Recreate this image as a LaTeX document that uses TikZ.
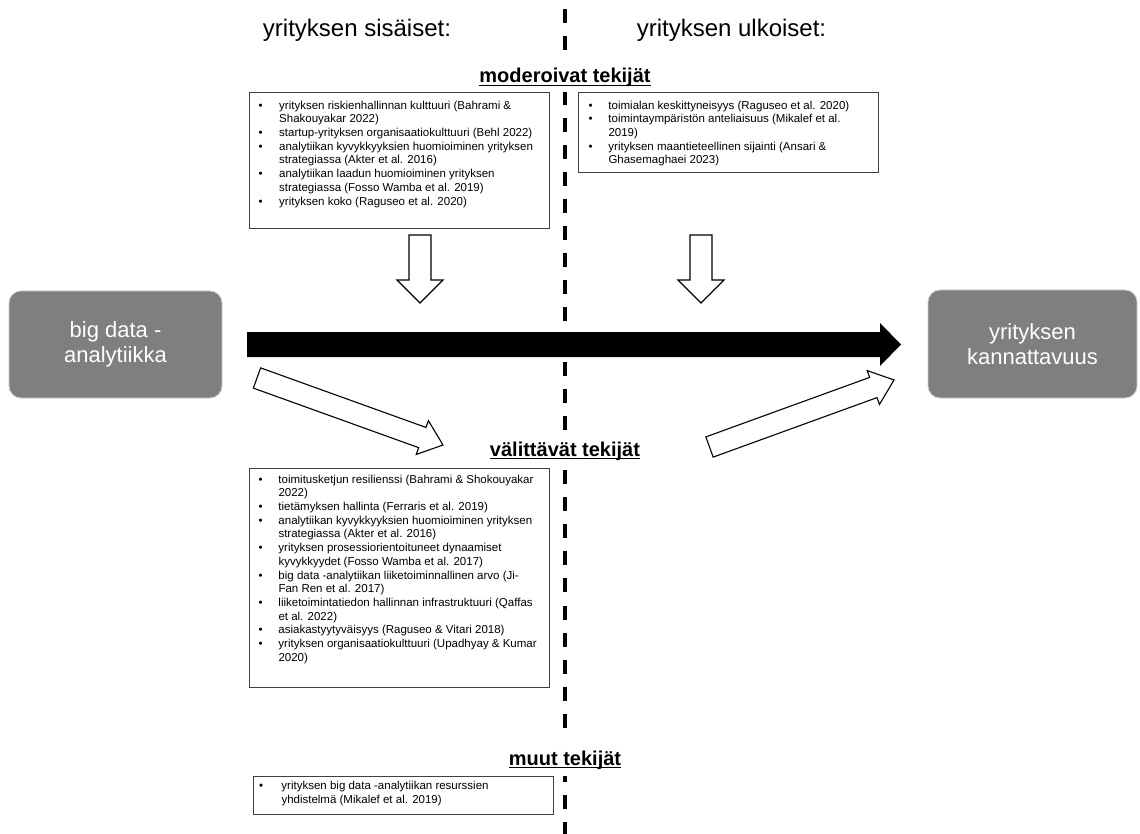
\documentclass[tikz,border=0pt]{standalone}
\usepackage{fontspec}
\setmainfont{Liberation Sans}
\usetikzlibrary{calc}
\definecolor{boxgray}{RGB}{127,127,127}
\newcommand\blockarrow[6]{% #1 style, #2 start, #3 tip, #4 half shaft, #5 half head, #6 head length
  \coordinate (ba-h) at ($(#3)!#6!(#2)$);
  \draw[#1] ($(#2)!#4!90:(#3)$) -- ($(ba-h)!#4!-90:(#2)$) -- ($(ba-h)!#5!-90:(#2)$) -- (#3)
    -- ($(ba-h)!#5!90:(#2)$) -- ($(ba-h)!#4!90:(#2)$) -- ($(#2)!#4!-90:(#3)$) -- cycle;
}
\newcommand\bl{\textbullet}
\begin{document}
\begin{tikzpicture}[x=1pt,y=-1pt,
  listbox/.style={draw=black!75, line width=1.1pt, anchor=north west, inner sep=0pt},
  listtext/.style={anchor=north west, inner sep=0pt, font=\fontsize{11.5}{13.7}\selectfont},
  labelbg/.style={fill=white, inner sep=0pt},
  labeltext/.style={anchor=base, inner sep=0pt, font=\bfseries\fontsize{20}{24}\selectfont},
  uline/.style={line width=1.5pt},
  titletext/.style={anchor=base, inner sep=0pt, font=\fontsize{24}{28}\selectfont},
  bigbox/.style={fill=boxgray, draw=black!20, line width=0.8pt, rounded corners=12pt,
    text=white, align=center, font=\fontsize{22}{25}\selectfont, inner sep=0pt},
  hollowarrow/.style={draw=black, line width=1.1pt, fill=white},
  solidarrow/.style={fill=black, draw=none},
  dashline/.style={line width=4.5pt, dash pattern=on 14pt off 13.1pt, dash phase=17.8pt}
]
\useasboundingbox (0,0) rectangle (1140,834);
\fill[white] (0,0) rectangle (1140,834);

% dashed divider
\coordinate (dtop) at (565,0);
\coordinate (dbot) at (565,834);
\draw[dashline] (dtop) -- (dbot);

% titles
\node[titletext] (tin) at (357,37) {yrityksen sisäiset:};
\node[titletext] (tout) at (731.5,37) {yrityksen ulkoiset:};

% label: moderoivat
\node[labelbg, minimum width=196pt, minimum height=32pt] (modbg) at (565,76) {};
\node[labeltext] (modlab) at (565,83) {moderoivat tekijät};
\draw[uline] ([yshift=-2.5pt]modlab.base west) -- ([yshift=-2.5pt]modlab.base east);

% moderating boxes
\node[listbox, minimum width=300pt, minimum height=136pt] (modin) at (249,92) {};
\node[listtext] (modintxt) at (258.5,99.4) {%
\begin{tabular}{@{}p{20.5pt}@{}l@{}}
\bl & yrityksen riskienhallinnan kulttuuri (Bahrami \&\\
    & Shakouyakar 2022)\\
\bl & startup-yrityksen organisaatiokulttuuri (Behl 2022)\\
\bl & analytiikan kyvykkyyksien huomioiminen yrityksen\\
    & strategiassa (Akter et al. 2016)\\
\bl & analytiikan laadun huomioiminen yrityksen\\
    & strategiassa (Fosso Wamba et al. 2019)\\
\bl & yrityksen koko (Raguseo et al. 2020)
\end{tabular}};

\node[listbox, minimum width=300pt, minimum height=80pt] (modout) at (578,92) {};
\node[listtext] (modouttxt) at (588.5,99.4) {%
\begin{tabular}{@{}p{19.8pt}@{}l@{}}
\bl & toimialan keskittyneisyys (Raguseo et al. 2020)\\
\bl & toimintaympäristön anteliaisuus (Mikalef et al.\\
    & 2019)\\
\bl & yrityksen maantieteellinen sijainti (Ansari \&\\
    & Ghasemaghaei 2023)
\end{tabular}};

% gray end boxes
\node[bigbox, minimum width=213pt, minimum height=107pt] (bda) at (115.5,344.5) {big data -\\analytiikka};
\node[bigbox, minimum width=209pt, minimum height=108pt] (kan) at (1032.5,344) {yrityksen\\kannattavuus};

% down arrows
\coordinate (d1s) at (420,235); \coordinate (d1t) at (420,303);
\coordinate (d2s) at (701,235); \coordinate (d2t) at (701,303);
\blockarrow{hollowarrow}{d1s}{d1t}{11pt}{23pt}{23pt}
\blockarrow{hollowarrow}{d2s}{d2t}{11pt}{23pt}{23pt}

% main arrow
\coordinate (ms) at (247,344.5); \coordinate (mt) at (901,344.5);
\blockarrow{solidarrow}{ms}{mt}{12.5pt}{21.5pt}{21pt}

% diagonal arrows
\coordinate (a1s) at (257,378); \coordinate (a1t) at (443,445);
\coordinate (a2s) at (709.5,447); \coordinate (a2t) at (894,380);
\blockarrow{hollowarrow}{a1s}{a1t}{10.75pt}{18pt}{22pt}
\blockarrow{hollowarrow}{a2s}{a2t}{10.75pt}{18pt}{22pt}

% label: välittävät
\node[labelbg, minimum width=196pt, minimum height=34pt] (medbg) at (579,449) {};
\node[labeltext] (medlab) at (565,456) {välittävät tekijät};
\draw[uline] ([yshift=-2.5pt]medlab.base west) -- ([yshift=-2.5pt]medlab.base east);

\node[listbox, minimum width=300pt, minimum height=219pt] (med) at (249,468) {};
\node[listtext] (medtxt) at (258.5,473.4) {%
\begin{tabular}{@{}p{19.8pt}@{}l@{}}
\bl & toimitusketjun resilienssi (Bahrami \& Shokouyakar\\
    & 2022)\\
\bl & tietämyksen hallinta (Ferraris et al. 2019)\\
\bl & analytiikan kyvykkyyksien huomioiminen yrityksen\\
    & strategiassa (Akter et al. 2016)\\
\bl & yrityksen prosessiorientoituneet dynaamiset\\
    & kyvykkyydet (Fosso Wamba et al. 2017)\\
\bl & big data -analytiikan liiketoiminnallinen arvo (Ji-\\
    & Fan Ren et al. 2017)\\
\bl & liiketoimintatiedon hallinnan infrastruktuuri (Qaffas\\
    & et al. 2022)\\
\bl & asiakastyytyväisyys (Raguseo \& Vitari 2018)\\
\bl & yrityksen organisaatiokulttuuri (Upadhyay \& Kumar\\
    & 2020)
\end{tabular}};

% label: muut
\node[labelbg, minimum width=133pt, minimum height=37pt] (othbg) at (563.5,757.5) {};
\node[labeltext] (othlab) at (565,765) {muut tekijät};
\draw[uline] ([yshift=-2.5pt]othlab.base west) -- ([yshift=-2.5pt]othlab.base east);

\node[listbox, minimum width=300pt, minimum height=38pt] (oth) at (253,776) {};
\node[listtext] (othtxt) at (258.8,779.8) {%
\begin{tabular}{@{}p{22.5pt}@{}l@{}}
\bl & yrityksen big data -analytiikan resurssien\\
    & yhdistelmä (Mikalef et al. 2019)
\end{tabular}};
\end{tikzpicture}
\end{document}
